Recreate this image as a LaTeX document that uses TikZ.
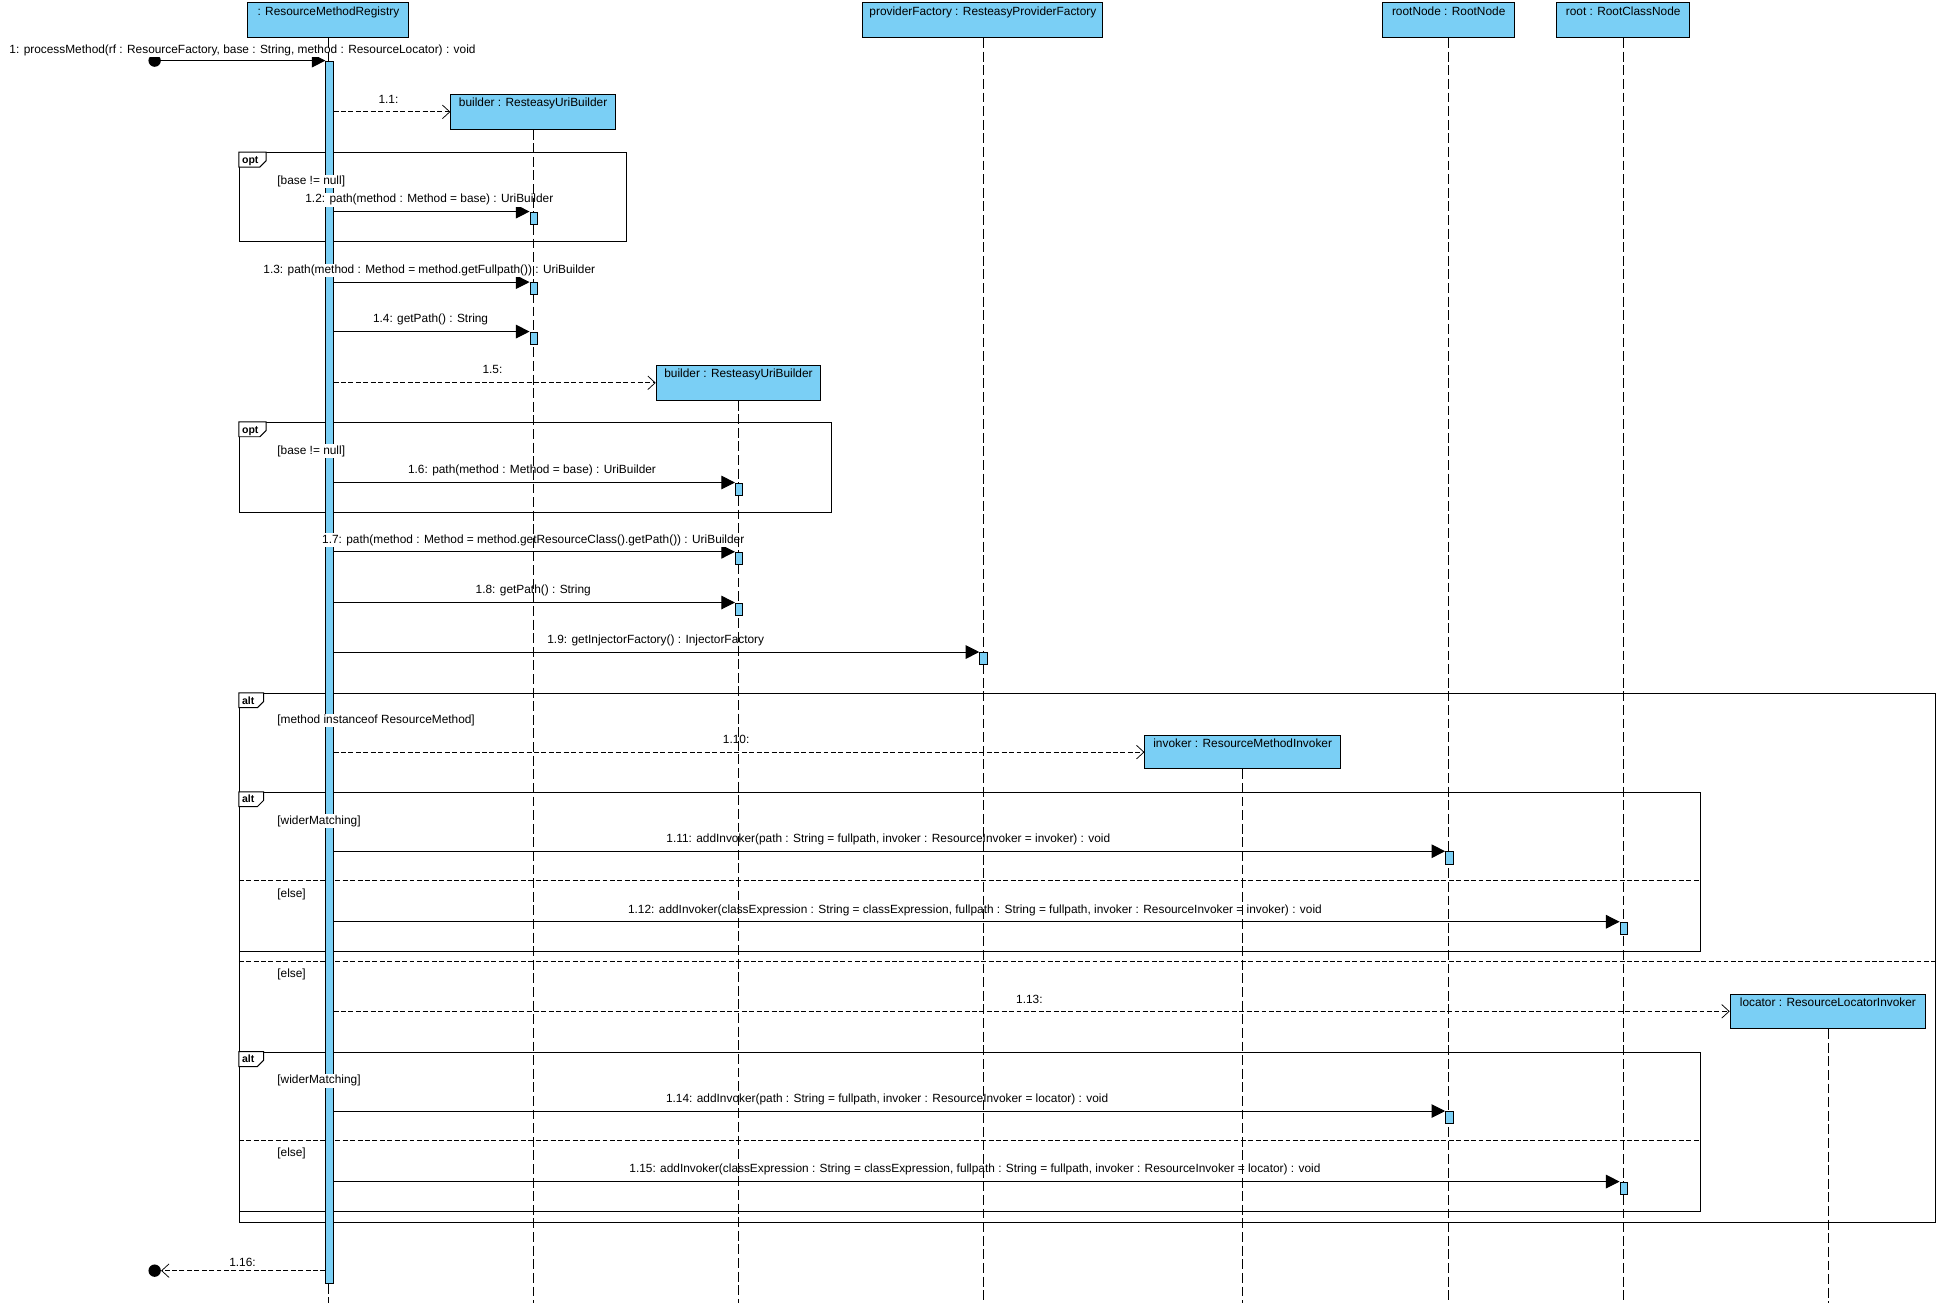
\documentclass[tikz,border=0pt]{standalone}
\usepackage{fontspec}
\setmainfont{Liberation Sans}
\usetikzlibrary{arrows.meta}
\definecolor{lb}{RGB}{122,207,245}
\newcommand\fragtag[4]{%
  \draw[line width=0.8pt, fill=white] (#1.north west) -- ++(#2,0) -- ++(0,7) -- ++(-5,5) -- ++({5-#2},0) -- cycle;
  \node[font=\bfseries\fontsize{8.5}{9}\selectfont, inner sep=0pt, anchor=base west] (#4) at ([xshift=2.5pt, yshift=-9pt]#1.north west) {#3};
}
\begin{document}
\begin{tikzpicture}[x=1pt,y=-1pt,
  txt/.style={font=\fontsize{9.6}{11}\selectfont},
  obj/.style={draw, fill=lb, line width=0.8pt, anchor=north west, inner sep=0pt, minimum height=28pt},
  objtext/.style={txt, anchor=north, inner sep=0pt, yshift=-3pt},
  act/.style={draw, fill=lb, line width=0.6pt, minimum width=6pt, minimum height=10pt, anchor=north west, inner sep=0pt},
  lifeline/.style={line width=0.5pt, dash pattern=on 8pt off 3pt},
  msg/.style={line width=0.8pt, -{Triangle[length=11pt,width=11pt]}},
  create/.style={line width=0.7pt, dash pattern=on 4pt off 2pt, -{Straight Barb[length=6pt,width=11pt,line width=0.6pt]}},
  lbl/.style={txt, inner sep=1pt, fill=white, anchor=base},
  guard/.style={lbl, anchor=base west},
  frame/.style={draw, line width=0.8pt, anchor=north west, inner sep=0pt},
  sep/.style={line width=0.8pt, dash pattern=on 4pt off 2pt},
  dot/.style={circle, fill=black, minimum size=10pt, inner sep=0pt}
]
\useasboundingbox (0,0) rectangle (1568,1057);

% ---------- frames ----------
\node[frame, minimum width=313pt, minimum height=72pt] (opt1) at (193,123) {};
\node[frame, minimum width=479pt, minimum height=73pt] (opt2) at (193,341) {};
\node[frame, minimum width=1371pt, minimum height=428pt] (alt1) at (193,560) {};
\node[frame, minimum width=1181pt, minimum height=129pt] (alt2) at (193,640) {};
\node[frame, minimum width=1181pt, minimum height=129pt] (alt3) at (193,850) {};
\fragtag{opt1}{22}{opt}{t1}
\fragtag{opt2}{22}{opt}{t2}
\fragtag{alt1}{20}{alt}{t3}
\fragtag{alt2}{20}{alt}{t4}
\fragtag{alt3}{20}{alt}{t5}
\coordinate (s1) at (0,712);
\coordinate (s2) at (0,777);
\coordinate (s3) at (0,922);
\draw[sep] (alt2.west |- s1) -- (alt2.east |- s1);
\draw[sep] (alt1.west |- s2) -- (alt1.east |- s2);
\draw[sep] (alt3.west |- s3) -- (alt3.east |- s3);

% ---------- objects ----------
\node[obj, minimum width=130pt, label={[objtext]north:{: ResourceMethodRegistry}}] (rmr) at (200,2) {};
\node[obj, minimum width=194pt, label={[objtext]north:{providerFactory : ResteasyProviderFactory}}] (pf) at (697,2) {};
\node[obj, minimum width=107pt, label={[objtext]north:{rootNode : RootNode}}] (rn) at (1117,2) {};
\node[obj, minimum width=107pt, label={[objtext]north:{root : RootClassNode}}] (rc) at (1258,2) {};
\node[obj, minimum width=133pt, label={[objtext]north:{builder : ResteasyUriBuilder}}] (b1) at (364,76) {};
\node[obj, minimum width=133pt, label={[objtext]north:{builder : ResteasyUriBuilder}}] (b2) at (530,295) {};
\node[obj, minimum width=158pt, minimum height=27pt, label={[objtext]north:{invoker : ResourceMethodInvoker}}] (inv) at (925,594) {};
\node[obj, minimum width=158pt, label={[objtext]north:{locator : ResourceLocatorInvoker}}] (loc) at (1398,803) {};

% ---------- main activation ----------
\node[act, minimum height=988pt] (act0) at (263,49) {};

% ---------- small activations (positions) ----------
\coordinate (p12) at (428,171);
\coordinate (p13) at (428,228);
\coordinate (p14) at (428,268);
\coordinate (p16) at (594,390);
\coordinate (p17) at (594,446);
\coordinate (p18) at (594,487);
\coordinate (p19) at (791.5,527);
\coordinate (p111) at (1168,688);
\coordinate (p112) at (1309,745);
\coordinate (p114) at (1168,898);
\coordinate (p115) at (1309,955);

% ---------- messages ----------
\node[dot] (start) at (125,49) {};
\node[dot] (end) at (125,1027) {};
\draw[msg] (start) -- (act0.north west);
\draw[create] (act0.east |- b1.west) -- (b1.west);
\draw[msg] (act0.east |- p12) -- (p12);
\draw[msg] (act0.east |- p13) -- (p13);
\draw[msg] (act0.east |- p14) -- (p14);
\draw[create] (act0.east |- b2.west) -- (b2.west);
\draw[msg] (act0.east |- p16) -- (p16);
\draw[msg] (act0.east |- p17) -- (p17);
\draw[msg] (act0.east |- p18) -- (p18);
\draw[msg] (act0.east |- p19) -- (p19);
\draw[create] (act0.east |- inv.west) -- (inv.west);
\draw[msg] (act0.east |- p111) -- (p111);
\draw[msg] (act0.east |- p112) -- (p112);
\draw[create] (act0.east |- loc.west) -- (loc.west);
\draw[msg] (act0.east |- p114) -- (p114);
\draw[msg] (act0.east |- p115) -- (p115);
\draw[create] (act0.west |- end) -- (end);

% ---------- labels ----------
\node[lbl] (l1) at (196,43) {1: processMethod(rf : ResourceFactory, base : String, method : ResourceLocator) : void};
\node[lbl] (l11) at (314,84) {1.1:};
\node[guard] (g1) at (223,149) {[base != null]};
\node[lbl] (l12) at (347,164) {1.2: path(method : Method = base) : UriBuilder};
\node[lbl] (l13) at (347,221) {1.3: path(method : Method = method.getFullpath()) : UriBuilder};
\node[lbl] (l14) at (348,261) {1.4: getPath() : String};
\node[lbl] (l15) at (398,302) {1.5:};
\node[guard] (g2) at (223,367) {[base != null]};
\node[lbl] (l16) at (430,383) {1.6: path(method : Method = base) : UriBuilder};
\node[lbl] (l17) at (431,439) {1.7: path(method : Method = method.getResourceClass().getPath()) : UriBuilder};
\node[lbl] (l18) at (431,480) {1.8: getPath() : String};
\node[lbl] (l19) at (530,520) {1.9: getInjectorFactory() : InjectorFactory};
\node[guard] (g3) at (223,585) {[method instanceof ResourceMethod]};
\node[lbl] (l110) at (595,601) {1.10:};
\node[guard] (g4) at (223,666) {[widerMatching]};
\node[lbl] (l111) at (718,681) {1.11: addInvoker(path : String = fullpath, invoker : ResourceInvoker = invoker) : void};
\node[guard] (g5) at (223,725) {[else]};
\node[lbl] (l112) at (788,738) {1.12: addInvoker(classExpression : String = classExpression, fullpath : String = fullpath, invoker : ResourceInvoker = invoker) : void};
\node[guard] (g6) at (223,790) {[else]};
\node[lbl] (l113) at (832,811) {1.13:};
\node[guard] (g7) at (223,876) {[widerMatching]};
\node[lbl] (l114) at (717,891) {1.14: addInvoker(path : String = fullpath, invoker : ResourceInvoker = locator) : void};
\node[guard] (g8) at (223,935) {[else]};
\node[lbl] (l115) at (788,948) {1.15: addInvoker(classExpression : String = classExpression, fullpath : String = fullpath, invoker : ResourceInvoker = locator) : void};
\node[lbl, fill=none] (l116) at (196,1024) {1.16:};

% ---------- lifelines ----------
\coordinate (bot) at (0,1053);
\draw[lifeline] (rmr.south) -- (act0.north -| rmr.south);
\draw[lifeline] (act0.south -| rmr.south) -- (rmr.south |- bot);
\draw[lifeline] (b1.south) -- (b1.south |- bot);
\draw[lifeline] (b2.south) -- (b2.south |- bot);
\draw[lifeline] (pf.south) -- (pf.south |- bot);
\draw[lifeline] (inv.south) -- (inv.south |- bot);
\draw[lifeline] (rn.south) -- (rn.south |- bot);
\draw[lifeline] (rc.south) -- (rc.south |- bot);
\draw[lifeline] (loc.south) -- (loc.south |- bot);

% ---------- small activations ----------
\node[act] (a12) at (p12) {};
\node[act] (a13) at (p13) {};
\node[act] (a14) at (p14) {};
\node[act] (a16) at (p16) {};
\node[act] (a17) at (p17) {};
\node[act] (a18) at (p18) {};
\node[act] (a19) at (p19) {};
\node[act] (a111) at (p111) {};
\node[act] (a112) at (p112) {};
\node[act] (a114) at (p114) {};
\node[act] (a115) at (p115) {};
\end{tikzpicture}
\end{document}
